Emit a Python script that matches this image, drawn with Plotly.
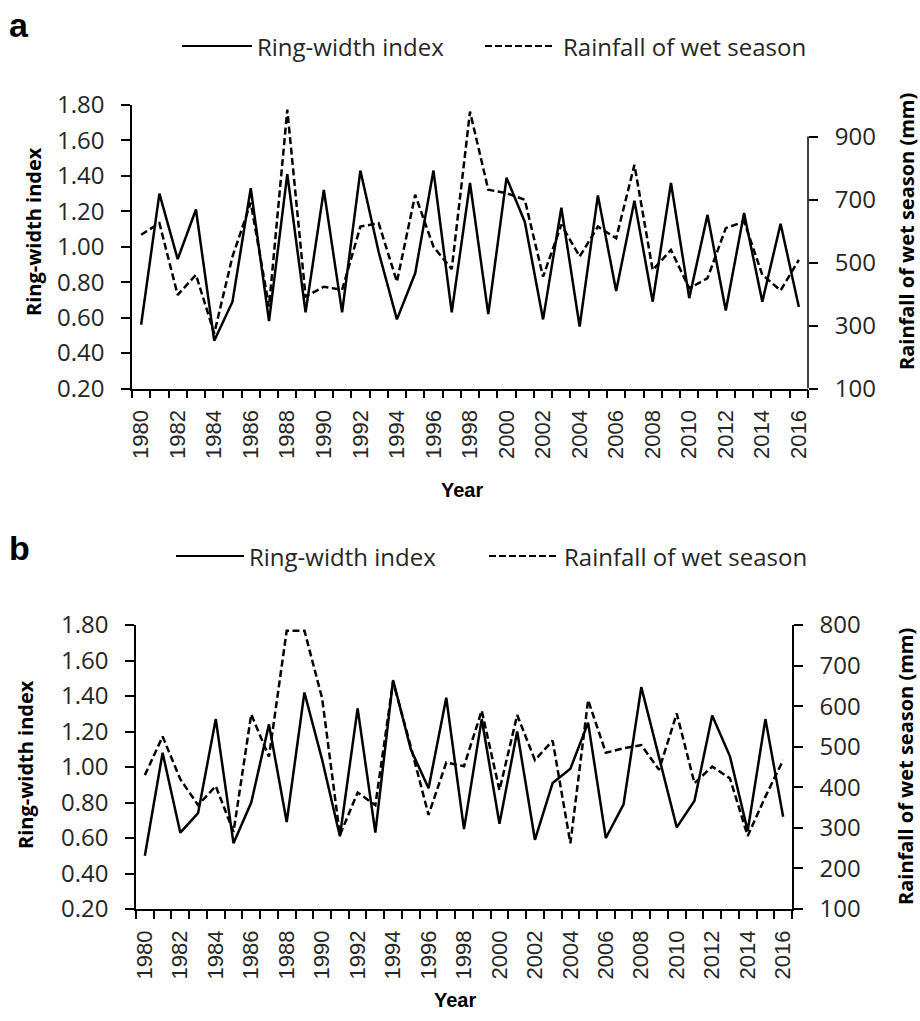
import plotly.graph_objects as go

years = list(range(1980, 2017))

# Panel a
ring_a = [0.56, 1.30, 0.93, 1.21, 0.47, 0.69, 1.33, 0.58, 1.41, 0.63,
          1.32, 0.63, 1.43, 0.97, 0.59, 0.85, 1.43, 0.63, 1.36, 0.62,
          1.39, 1.14, 0.59, 1.22, 0.55, 1.29, 0.75, 1.26, 0.69, 1.36,
          0.71, 1.18, 0.64, 1.19, 0.69, 1.13, 0.66]
rain_a = [588, 625, 397, 461, 275, 519, 690, 360, 985, 392,
          423, 413, 614, 625, 439, 715, 550, 479, 979, 731,
          720, 699, 455, 620, 519, 614, 577, 810, 476, 540,
          418, 450, 609, 630, 461, 411, 508]

# Panel b
ring_b = [0.50, 1.08, 0.63, 0.74, 1.27, 0.57, 0.80, 1.24, 0.69, 1.42,
          1.04, 0.61, 1.33, 0.63, 1.49, 1.10, 0.88, 1.39, 0.65, 1.27,
          0.68, 1.20, 0.59, 0.91, 0.99, 1.25, 0.60, 0.79, 1.45, 1.06,
          0.66, 0.81, 1.29, 1.06, 0.64, 1.27, 0.72]
rain_b = [430, 525, 420, 356, 403, 290, 580, 475, 786, 786,
          619, 282, 387, 356, 660, 500, 332, 461, 452, 589,
          393, 578, 467, 515, 262, 615, 485, 496, 504, 443,
          582, 410, 451, 422, 280, 377, 467]

ring_ticks = [0.2, 0.4, 0.6, 0.8, 1.0, 1.2, 1.4, 1.6, 1.8]
rain_ticks_a = [100, 300, 500, 700, 900]
rain_ticks_b = [100, 200, 300, 400, 500, 600, 700, 800]
year_labels = [str(y) if (y - 1980) % 2 == 0 else "" for y in years]
series_names = ["Ring-width index", "Rainfall of wet season"]

W, H = 920, 1021
def px(x):
    return x / W
def py(y):
    return 1 - y / H

CAL = "Open Sans"
TXT = "#262626"
DASH = "7px,3.5px"
LW = 2.5

fig = go.Figure()
fig.add_trace(go.Scatter(x=years, y=ring_a, mode="lines", name=series_names[0],
                         line=dict(color="black", width=LW), xaxis="x", yaxis="y"))
fig.add_trace(go.Scatter(x=years, y=rain_a, mode="lines", name=series_names[1],
                         line=dict(color="black", width=LW, dash=DASH),
                         xaxis="x", yaxis="y2"))
fig.add_trace(go.Scatter(x=years, y=ring_b, mode="lines", name=series_names[0],
                         line=dict(color="black", width=LW), xaxis="x2", yaxis="y3"))
fig.add_trace(go.Scatter(x=years, y=rain_b, mode="lines", name=series_names[1],
                         line=dict(color="black", width=LW, dash=DASH),
                         xaxis="x2", yaxis="y4"))

def xaxis_style(domain, anchor):
    return dict(domain=domain, anchor=anchor, range=[1979.5, 2016.5],
                tickmode="array", tickvals=years, ticktext=year_labels,
                tickangle=-90, ticks="", showgrid=False, zeroline=False,
                showline=True, linecolor="black", linewidth=1.5,
                ticklabelstandoff=11, automargin=False,
                tickfont=dict(family="Liberation Sans", size=22, color=TXT),
                minor=dict(tickmode="linear", tick0=1979.5, dtick=1, ticks="outside",
                           ticklen=8, tickcolor="black", tickwidth=1.5, showgrid=False),
                fixedrange=True)

def yleft(domain, anchor):
    return dict(domain=domain, anchor=anchor, range=[0.2, 1.8], tickmode="array",
                tickvals=ring_ticks, ticktext=[f"{v:.2f}" for v in ring_ticks],
                ticks="outside", ticklen=9, tickwidth=1.5, tickcolor="black",
                showline=True, linecolor="black", linewidth=1.5, showgrid=False,
                zeroline=False, automargin=False, ticklabelstandoff=12,
                tickfont=dict(family=CAL, size=24, color=TXT))

def yright(overlay, anchor, rng, vals, line):
    return dict(overlaying=overlay, side="right", anchor=anchor, range=rng,
                tickmode="array", tickvals=vals, ticks="outside", ticklen=9,
                tickwidth=1.5, tickcolor="black", showline=line, linecolor="black",
                linewidth=1.5, showgrid=False, zeroline=False, automargin=False,
                ticklabelstandoff=12, tickfont=dict(family=CAL, size=24, color=TXT))

ya = [py(388.5), py(105)]
yb = [py(909), py(625)]
xa = [px(132), px(808)]
xb = [px(136), px(792)]

fig.update_layout(
    width=W, height=H, margin=dict(l=0, r=0, t=0, b=0, pad=0),
    paper_bgcolor="white", plot_bgcolor="white", showlegend=False,
    xaxis=xaxis_style(xa, "y"),
    xaxis2=xaxis_style(xb, "y3"),
    yaxis=yleft(ya, "x"),
    yaxis2=yright("y", "x", [100, 1000], rain_ticks_a, False),
    yaxis3=yleft(yb, "x2"),
    yaxis4=yright("y3", "x2", [100, 800], rain_ticks_b, True),
)

# right axis line of panel a (drawn from 100 to 900 only)
fig.add_shape(type="line", xref="x domain", yref="y2", x0=1, x1=1, y0=100, y1=900,
              line=dict(color="black", width=1.5))

def ann(text, x, y, size, angle=0, bold=True, family=CAL, color="black", xanchor="center"):
    fig.add_annotation(text=f"<b>{text}</b>" if bold else text, x=px(x), y=py(y),
                       xref="paper", yref="paper", showarrow=False, textangle=angle,
                       font=dict(family=family, size=size, color=color),
                       xanchor=xanchor, yanchor="middle", borderpad=0)

# legend keys (drawn as line samples + labels)
def legend_row(y, s0, s1, t1, d0, d1, t2):
    fig.add_shape(type="line", xref="paper", yref="paper", x0=px(s0), x1=px(s1),
                  y0=py(y), y1=py(y), line=dict(color="black", width=2))
    fig.add_shape(type="line", xref="paper", yref="paper", x0=px(d0), x1=px(d1),
                  y0=py(y), y1=py(y), line=dict(color="black", width=2, dash="7px,3px"))
    ann(series_names[0], t1, y, 24, bold=False, color=TXT, xanchor="left")
    ann(series_names[1], t2, y, 24, bold=False, color=TXT, xanchor="left")

legend_row(46, 182, 252, 256, 485, 555, 562)
legend_row(556, 176, 244, 248, 489, 556, 563)

ann("a", 19, 25, 34, family="Liberation Sans")
ann("b", 19, 548, 34, family="Liberation Sans")
ann("Ring-width index", 33, 232, 20, angle=-90)
ann("Ring-width index", 25, 765, 20, angle=-90)
ann("Rainfall of wet season (mm)", 906, 232, 20, angle=-90)
ann("Rainfall of wet season (mm)", 905, 767, 20, angle=-90)
ann("Year", 462, 490, 20, family="Liberation Sans")
ann("Year", 455, 1000, 20, family="Liberation Sans")

fig.write_html("out.html", config={"displayModeBar": False},
               post_script="document.body.style.margin='0px';")
